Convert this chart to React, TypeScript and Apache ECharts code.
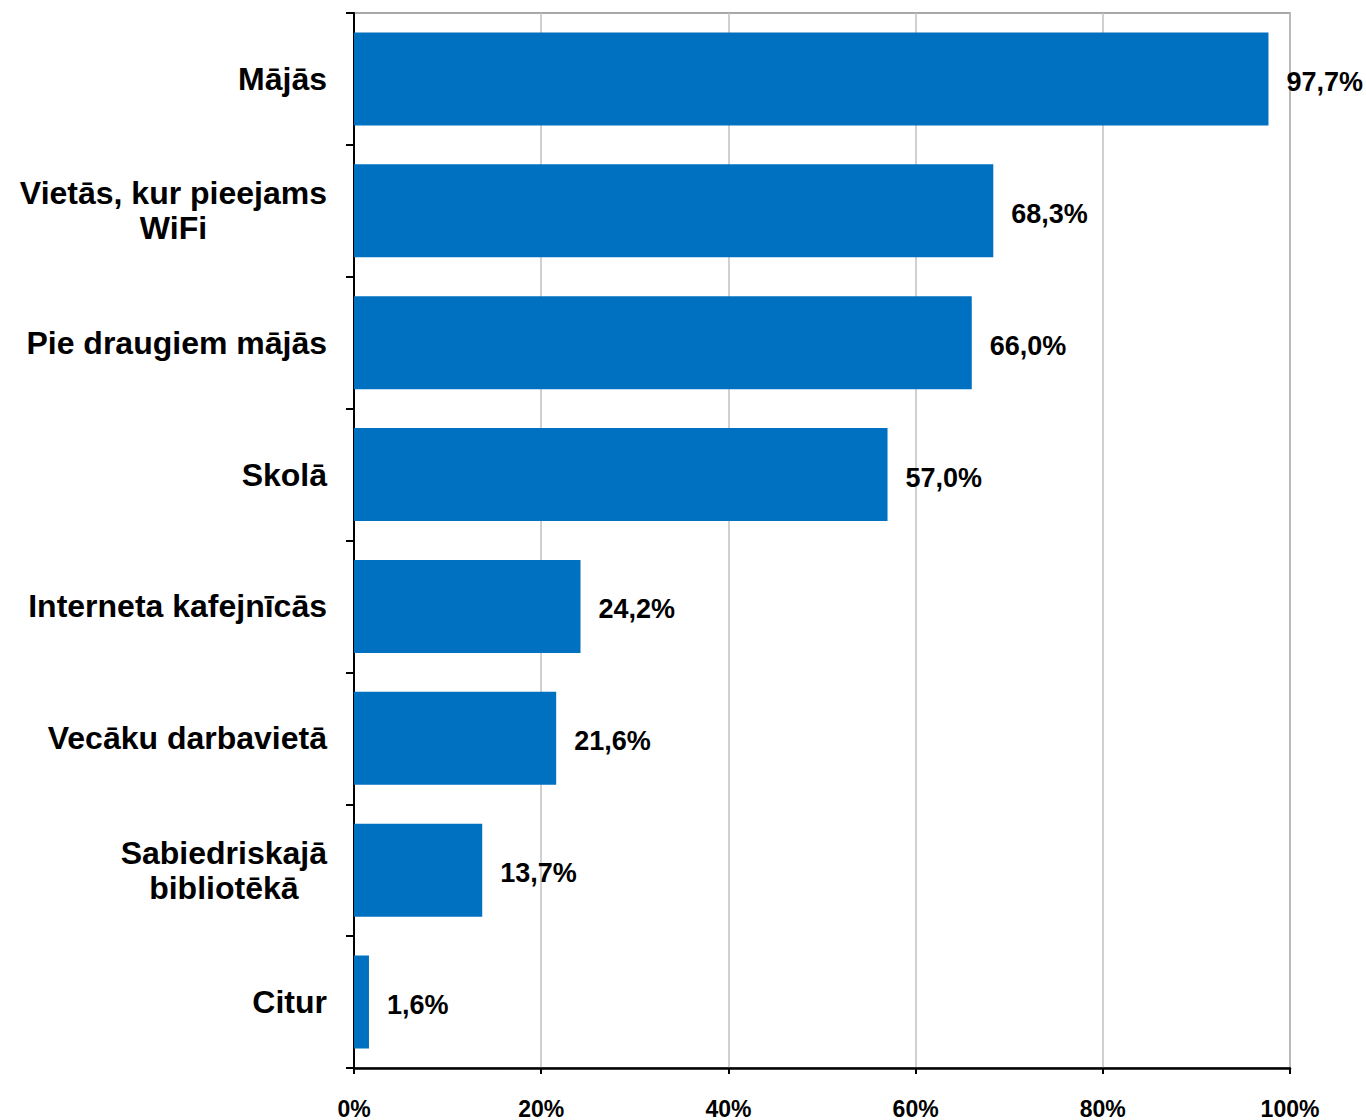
import React, { useEffect, useRef } from "react";
import * as echarts from "echarts";

const categories = [
  "Mājās",
  "Vietās, kur pieejams\nWiFi",
  "Pie draugiem mājās",
  "Skolā",
  "Interneta kafejnīcās",
  "Vecāku darbavietā",
  "Sabiedriskajā\nbibliotēkā",
  "Citur",
];
const values = [97.7, 68.3, 66.0, 57.0, 24.2, 21.6, 13.7, 1.6];
const xTicks = { min: 0, max: 100, interval: 20 };

const FONT = 'Arial, "Liberation Sans", Helvetica, sans-serif';

export default function App() {
  const ref = useRef<HTMLDivElement>(null);
  useEffect(() => {
    if (!ref.current) return;
    const chart = echarts.init(ref.current, null, { renderer: "svg" });
    chart.setOption({
      animation: false,
      backgroundColor: "#ffffff",
      grid: {
        left: 354,
        right: 76,
        top: 13,
        bottom: 51,
        show: true,
        borderColor: "#8c8c8c",
        borderWidth: 1.5,
        containLabel: false,
      },
      xAxis: {
        type: "value",
        min: xTicks.min,
        max: xTicks.max,
        interval: xTicks.interval,
        axisLine: { show: true, lineStyle: { color: "#000", width: 2.5 } },
        axisTick: { show: true, length: 6, lineStyle: { color: "#000", width: 2 } },
        splitLine: { show: true, lineStyle: { color: "#c0c0c0", width: 1.5 } },
        axisLabel: {
          formatter: "{value}%",
          fontFamily: FONT,
          fontWeight: "bold",
          fontSize: 23,
          color: "#000",
          margin: 29,
        },
      },
      yAxis: {
        type: "category",
        inverse: true,
        data: categories,
        axisLine: { show: true, lineStyle: { color: "#000", width: 2 } },
        axisTick: { show: true, length: 8, lineStyle: { color: "#000", width: 2 } },
        axisLabel: {
          margin: 27,
          color: "#000",
          formatter: (v: string) =>
            v
              .split("\n")
              .map((l) => `{c|${l}}`)
              .join("\n"),
          rich: {
            c: {
              align: "center",
              fontFamily: FONT,
              fontWeight: "bold",
              fontSize: 32,
              lineHeight: 35,
              color: "#000",
            },
          },
        },
      },
      series: [
        {
          type: "bar",
          data: values,
          barWidth: "70.5%",
          itemStyle: { color: "#0070C0" },
          label: {
            show: true,
            position: "right",
            distance: 18,
            fontFamily: FONT,
            fontWeight: "bold",
            fontSize: 27,
            color: "#000",
            offset: [0, 3],
            formatter: (p: any) => p.value.toFixed(1).replace(".", ",") + "%",
          },
        },
      ],
    });
    return () => chart.dispose();
  }, []);
  return (
    <div
      ref={ref}
      style={{ position: "absolute", left: 0, top: 0, width: 1366, height: 1120 }}
    />
  );
}
